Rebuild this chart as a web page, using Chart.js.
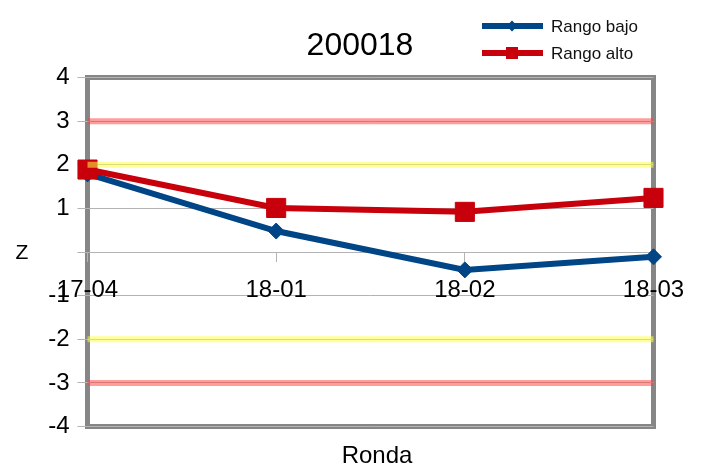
<!DOCTYPE html>
<html>
<head>
<meta charset="utf-8">
<script src="https://cdn.jsdelivr.net/npm/chart.js@4/dist/chart.umd.min.js"></script>
<style>
  html, body { margin: 0; padding: 0; background: #fff; }
  #wrap { width: 704px; height: 468px; }
</style>
</head>
<body>
<div id="wrap"><canvas id="graph" width="704" height="468"></canvas></div>
<script>
// data
var chartTitle = "200018";
var xTitle = "Ronda";
var yTitle = "Z";
var rondas = ["17-04", "18-01", "18-02", "18-03"];
var rangoBajo = [1.79, 0.48, -0.41, -0.11];
var rangoAlto = [1.89, 1.01, 0.92, 1.24];
// limit lines
var limRojoSup = [3, 3, 3, 3];
var limRojoInf = [-3, -3, -3, -3];
var limAmarSup = [2, 2, 2, 2];
var limAmarInf = [-2, -2, -2, -2];
var yTicks = [-4, -3, -2, -1, 0, 1, 2, 3, 4];
var yTickLabels = ["-4", "-3", "-2", "-1", "", "1", "2", "3", "4"];

var azul = "#004586";
var rojo = "#c8000b";
var rosa = "rgba(255,60,60,0.5)";
var amarillo = "rgba(255,255,70,0.55)";

function limite(data, color, ord){
  return {
    label: "", data: data, borderColor: color, backgroundColor: color,
    borderWidth: 6, pointRadius: 0, pointHoverRadius: 0, order: ord, isLimit: true
  };
}

// frame + texts + legend
var extras = {
  id: "extras",
  beforeDraw: function(chart){
    var a = chart.chartArea, c = chart.ctx;
    c.save();
    c.strokeStyle = "#868686";
    c.lineWidth = 5;
    c.strokeRect(a.left, a.top, a.right - a.left, a.bottom - a.top);
    c.restore();
  },
  afterDraw: function(chart){
    var c = chart.ctx;
    c.save();
    c.fillStyle = "#000";
    c.textAlign = "center";
    c.textBaseline = "middle";
    c.font = "32px 'Liberation Sans'";
    c.fillText(chartTitle, 360, 46);
    c.font = "24px 'Liberation Sans'";
    c.fillText(xTitle, 377, 456);
    c.font = "21px 'Liberation Sans'";
    c.fillText(yTitle, 22, 253);
    // legend, stacked
    var ds = chart.data.datasets.filter(function(d){ return !d.isLimit; });
    ds.forEach(function(d, i){
      var y = 26 + i * 27;
      c.strokeStyle = d.borderColor;
      c.lineWidth = 6;
      c.beginPath(); c.moveTo(482, y); c.lineTo(543, y); c.stroke();
      c.fillStyle = d.borderColor;
      Chart.helpers.drawPoint(c, {
        pointStyle: d.pointStyle, rotation: 0, borderWidth: 0,
        radius: d.pointStyle === "rect" ? 8.5 : 5.5
      }, 512, y);
      c.fillStyle = "#111";
      c.textAlign = "left";
      c.font = "17px 'Liberation Sans'";
      c.fillText(d.label, 551, y + 1);
    });
    c.restore();
  }
};

const graph = new Chart("graph", {
  type: "line",
  data: {
    labels: rondas,
    datasets: [
      {
        label: "Rango bajo", data: rangoBajo,
        borderColor: azul, backgroundColor: azul,
        borderWidth: 6, pointStyle: "rectRot", pointRadius: 8, pointBorderWidth: 1,
        pointHoverRadius: 8, order: 4
      },
      {
        label: "Rango alto", data: rangoAlto,
        borderColor: rojo, backgroundColor: rojo,
        borderWidth: 6, pointStyle: "rect", pointRadius: 13.5, pointBorderWidth: 1,
        pointHoverRadius: 13.5, order: 3
      },
      limite(limRojoSup, rosa, 1),
      limite(limRojoInf, rosa, 1),
      limite(limAmarSup, amarillo, 0),
      limite(limAmarInf, amarillo, 0)
    ]
  },
  options: {
    responsive: false,
    animation: false,
    layout: { padding: { left: 16, right: 50.5, top: 77.5, bottom: 41.5 } },
    plugins: {
      legend: { display: false },
      title: { display: false },
      tooltip: { enabled: false }
    },
    scales: {
      x: {
        position: { y: 0 },
        offset: false,
        border: { display: false },
        grid: { drawOnChartArea: false, drawTicks: true, tickLength: 10, color: "#b3b3b3", lineWidth: 1 },
        ticks: {
          autoSkip: false, maxRotation: 0, padding: 14, color: "#000",
          font: { family: "'Liberation Sans'", size: 24 }
        },
        afterFit: function(s){ s.paddingLeft = 0; s.paddingRight = 0; }
      },
      y: {
        min: -4, max: 4,
        border: { display: false },
        grid: { color: "#b3b3b3", lineWidth: 1, tickLength: 10 },
        afterBuildTicks: function(s){ s.ticks = yTicks.map(function(v){ return {value: v}; }); },
        ticks: {
          padding: 8, color: "#000",
          font: { family: "'Liberation Sans'", size: 24 },
          callback: function(v){ return yTickLabels[yTicks.indexOf(v)]; }
        },
        afterFit: function(s){ s.width = 71.5; s.paddingTop = 0; s.paddingBottom = 0; }
      }
    }
  },
  plugins: [extras]
});
</script>
</body>
</html>
